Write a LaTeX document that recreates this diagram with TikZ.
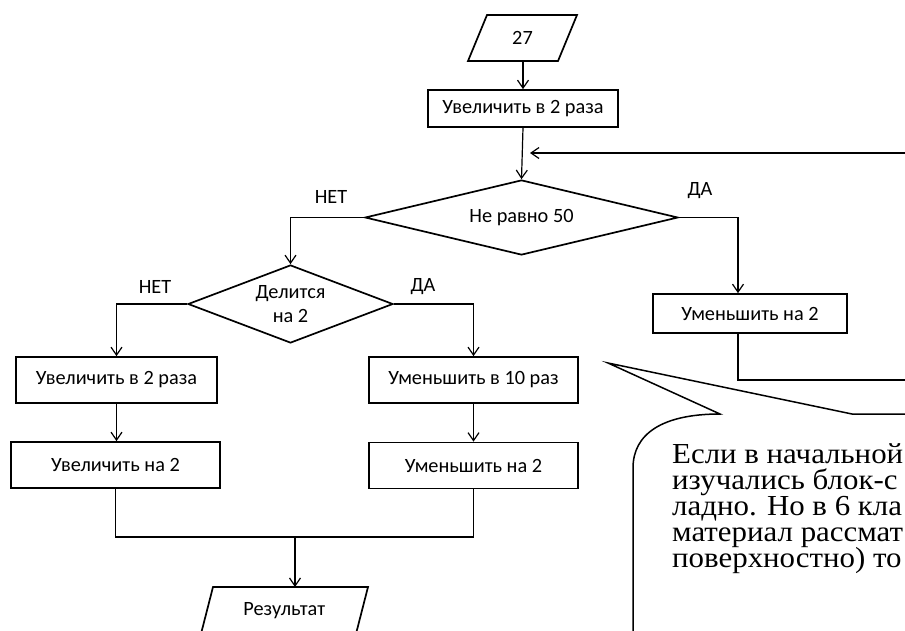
\documentclass[tikz,border=0pt]{standalone}
\usepackage{fontspec}
\setmainfont{Liberation Serif}
\newfontfamily\calfont{Carlito}
\newfontfamily\notefont[FakeStretch=1.065]{Liberation Serif}
\usetikzlibrary{arrows.meta,shapes.geometric}
\begin{document}
\begin{tikzpicture}[x=1pt,y=-1pt,
  every node/.style={font=\calfont\fontsize{20.3}{24}\selectfont},
  box/.style={draw,line width=1.7pt,rectangle,inner sep=0pt,minimum height=46pt},
  dec/.style={draw,line width=1.7pt,diamond,inner sep=0pt},
  ioline/.style={line width=1.7pt,line join=miter},
  conn/.style={line width=1.2pt},
  arr/.style={conn,-{Straight Barb[length=8pt,width=11pt,line width=1.2pt]}},
  lbl/.style={inner sep=0pt},
  txt/.style={font=\notefont\fontsize{29}{26}\selectfont,inner sep=0pt,anchor=base west},
  bubble/.style={line width=1.5pt}
]
\useasboundingbox (0,0) rectangle (905,630);
\clip (0,0) rectangle (905,630);

% input / output parallelograms
\node[inner sep=0pt] (in) at (522.5,38) {27};
\draw[ioline] (468,61) -- (487,15) -- (577,15) -- (558,61) -- cycle;
\coordinate (inS) at (523,61);
\node[inner sep=0pt] (out) at (284.3,611) {Результат};
\draw[ioline] (200.7,635) -- (213,587) -- (368,587) -- (355.7,635) -- cycle;
\coordinate (outN) at (295,587);

% flowchart nodes
\node[box,minimum width=190pt,minimum height=37pt] (b1) at (523,108.5) {Увеличить в 2 раза};
\node[dec,aspect=4,minimum width=313pt,minimum height=75pt] (d1) at (521.5,217.5) {Не равно 50};
\node[box,minimum width=194pt,minimum height=39pt] (b2) at (750,313.5) {Уменьшить на 2};
\node[dec,aspect=2.6,minimum width=205pt,minimum height=78pt,align=center] (d2) at (290.5,304) {Делится\\на 2};
\node[box,minimum width=201pt] (b3) at (116.5,380) {Увеличить в 2 раза};
\node[box,minimum width=209pt] (b4) at (473.5,380) {Уменьшить в 10 раз};
\node[box,minimum width=209pt] (b5) at (115.5,465) {Увеличить на 2};
\node[box,minimum width=209pt] (b6) at (473.5,465.5) {Уменьшить на 2};

% labels
\node[lbl] (l1) at (331,197) {НЕТ};
\node[lbl] (l2) at (700,191) {ДА};
\node[lbl] (l3) at (155,287) {НЕТ};
\node[lbl] (l4) at (423,287) {ДА};

% free ends
\coordinate (fbin) at (910,153);
\coordinate (fbtip) at (530,153);
\coordinate (loopout) at (910,380);
\coordinate (m) at (295,537);

% connectors
\draw[arr] (inS) -- (inS |- b1.north);
\draw[arr] (b1.south) -- (d1.north);
\draw[arr] (fbin) -- (fbtip);
\draw[arr] (d1.east) -| ([xshift=-12pt]b2.north);
\draw[conn] ([xshift=-12pt]b2.south) |- (loopout);
\draw[arr] (d1.west) -| (d2.north);
\draw[arr] (d2.west) -| (b3.north);
\draw[arr] (d2.east) -| (b4.north);
\draw[arr] (b3.south) -- (b3.south |- b5.north);
\draw[arr] (b4.south) -- (b4.south |- b6.north);
\draw[conn] (b5.south) |- (m) -| (b6.south);
\draw[arr] (m) -- (outN);

% callout
\coordinate (tip) at (608,363);
\coordinate (wr) at (852,414);
\coordinate (wl) at (720,414);
\coordinate (cb) at (633,468);
\draw[bubble] (915,414) -- (wr) -- (tip) -- (wl) .. controls (662,414) and (633,434) .. (cb) -- (633,640);
\node[txt] (note) at (672,463) {\vtop{\baselineskip=26pt\lineskiplimit=-100pt
  \hbox{Если в начальной}
  \hbox{изучались блок-с}
  \hbox{ладно. Но в 6 кла}
  \hbox{материал рассмат}
  \hbox{поверхностно) то}}};
\end{tikzpicture}
\end{document}
